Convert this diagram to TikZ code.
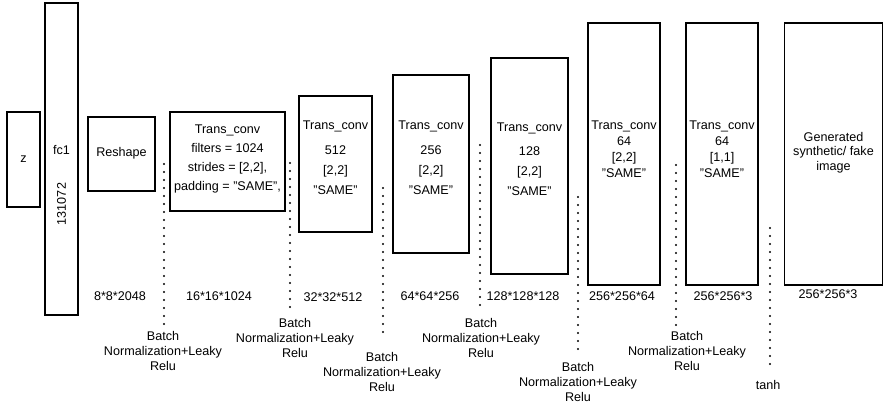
\documentclass[tikz,border=0pt]{standalone}
\usepackage{fontspec}
\usepackage{graphicx}
\setmainfont{Liberation Sans}
\begin{document}
\begin{tikzpicture}[x=1pt,y=-1pt,
  layer/.style={draw=black,line width=1.3pt,rectangle,inner sep=0pt,outer sep=0pt},
  txt/.style={inner sep=0pt,align=center,font=\fontsize{12.6pt}{15pt}\selectfont},
  convtxt/.style={txt,font=\fontsize{12.6pt}{20pt}\selectfont},
  smalltxt/.style={txt,font=\fontsize{12.6pt}{16pt}\selectfont},
  gentxt/.style={txt,font=\fontsize{12.6pt}{14.5pt}\selectfont},
  dots/.style={line width=2.3pt,line cap=round,dash pattern=on 0pt off 8pt,black}]
\useasboundingbox (0,0) rectangle (885,406);
% layer boxes
\node[layer,minimum width=33pt,minimum height=95pt] (z) at (23.5,159.5) {};
\node[layer,minimum width=33pt,minimum height=312pt] (fc1) at (61.5,159) {};
\node[layer,minimum width=67pt,minimum height=74pt] (reshape) at (121.5,154) {};
\node[layer,minimum width=115pt,minimum height=99pt] (c1024) at (227.5,161.5) {};
\node[layer,minimum width=73pt,minimum height=136pt] (c512) at (335.5,164) {};
\node[layer,minimum width=76pt,minimum height=178pt] (c256) at (431,164) {};
\node[layer,minimum width=77pt,minimum height=216pt] (c128) at (529.5,166) {};
\node[layer,minimum width=72pt,minimum height=262pt] (c64a) at (624,154) {};
\node[layer,minimum width=72pt,minimum height=262pt] (c64b) at (722,154) {};
\node[layer,minimum width=98pt,minimum height=262pt] (gen) at (833.5,154) {};
% texts inside boxes
\node[txt] (tz) at (23.5,159) {z};
\node[txt] (tfc) at (61.5,150) {fc1};
\node[txt] (tfcn) at (61.5,204) {\rotatebox{90}{131072}};
\node[txt] (tres) at (121.5,153) {Reshape};
\node[txt,font=\fontsize{12.6pt}{19.3pt}\selectfont] (t1024) at (227.5,159) {Trans\_conv\\filters = 1024\\strides = [2,2],\\padding = "SAME",};
\node[convtxt] (t512) at (335.5,157.5) {Trans\_conv\\[5pt]512\\{[2,2]}\\"SAME"};
\node[convtxt] (t256) at (431,157.5) {Trans\_conv\\[5pt]256\\{[2,2]}\\"SAME"};
\node[convtxt] (t128) at (529.5,159.5) {Trans\_conv\\[4pt]128\\{[2,2]}\\"SAME"};
\node[smalltxt] (t64a) at (624,149) {Trans\_conv\\64\\{[2,2]}\\"SAME"};
\node[smalltxt] (t64b) at (722,149) {Trans\_conv\\64\\{[1,1]}\\"SAME"};
\node[gentxt] (tgen) at (833.5,152.5) {Generated\\synthetic/ fake\\image};
% output sizes
\node[txt] (s1) at (120,296) {8*8*2048};
\node[txt] (s2) at (219,296) {16*16*1024};
\node[txt] (s3) at (333,297) {32*32*512};
\node[txt] (s4) at (430,296) {64*64*256};
\node[txt] (s5) at (523,296) {128*128*128};
\node[txt] (s6) at (622,296) {256*256*64};
\node[txt] (s7) at (723,296) {256*256*3};
\node[txt] (s8) at (828,294) {256*256*3};
% activation labels
\node[txt] (a1) at (163,351) {Batch\\Normalization+Leaky\\Relu};
\node[txt] (a2) at (295,338) {Batch\\Normalization+Leaky\\Relu};
\node[txt] (a3) at (382,372) {Batch\\Normalization+Leaky\\Relu};
\node[txt] (a4) at (481,338) {Batch\\Normalization+Leaky\\Relu};
\node[txt] (a5) at (578,382) {Batch\\Normalization+Leaky\\Relu};
\node[txt] (a6) at (687,351) {Batch\\Normalization+Leaky\\Relu};
\node[txt] (a7) at (768,385) {tanh};
% dotted separators
\coordinate (d1t) at (164,164); \coordinate (d1b) at (164,325);
\coordinate (d2t) at (290,163); \coordinate (d2b) at (290,313);
\coordinate (d3t) at (383,188); \coordinate (d3b) at (383,338);
\coordinate (d4t) at (480,145); \coordinate (d4b) at (480,312);
\coordinate (d5t) at (578,197); \coordinate (d5b) at (578,350);
\coordinate (d6t) at (676,165); \coordinate (d6b) at (676,325);
\coordinate (d7t) at (770,228); \coordinate (d7b) at (770,370);
\foreach \i in {1,...,7} {\draw[dots] (d\i t) -- (d\i b);}
\end{tikzpicture}
\end{document}
